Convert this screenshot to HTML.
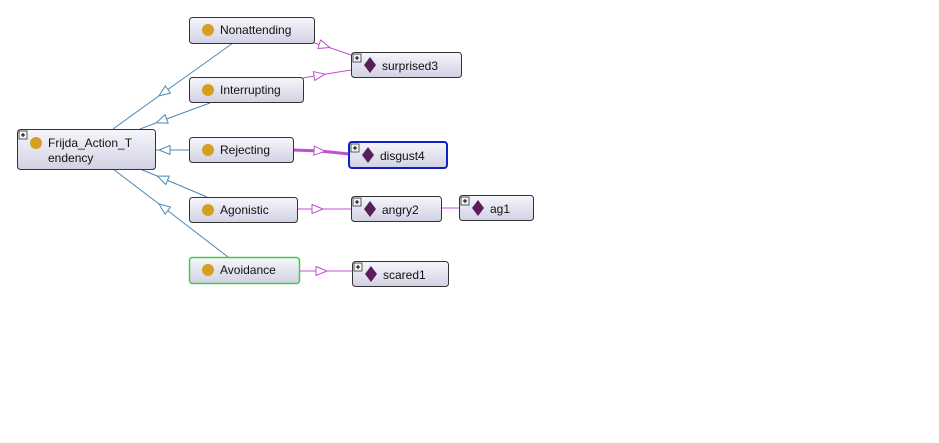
<!DOCTYPE html>
<html><head><meta charset="utf-8"><style>
html,body{margin:0;padding:0;background:#fff;}
svg text{font-family:"Liberation Sans",Arial,sans-serif;font-size:12px;fill:#111;}
</style></head><body>
<svg width="939" height="438" viewBox="0 0 939 438" xmlns="http://www.w3.org/2000/svg">
<defs>
<linearGradient id="g" x1="0" y1="0" x2="0" y2="1">
<stop offset="0" stop-color="#f6f6fb"/><stop offset="1" stop-color="#d2d1e4"/>
</linearGradient>
<marker id="ab" markerWidth="14" markerHeight="12" refX="7" refY="5" orient="auto" markerUnits="userSpaceOnUse">
<path d="M1,0.5 L12,5 L1,9.5 z" fill="#fff" stroke="#4a8ab8" stroke-width="1"/>
</marker>
<marker id="ap" markerWidth="14" markerHeight="12" refX="7" refY="5" orient="auto" markerUnits="userSpaceOnUse">
<path d="M1,0.5 L12,5 L1,9.5 z" fill="#fff" stroke="#c050d0" stroke-width="1"/>
</marker>
<g id="plus"><rect x="0" y="0" width="8" height="8" fill="#f4f4f4" stroke="#333" stroke-width="0.8"/><path d="M2,4 H6 M4,2 V6" stroke="#000" stroke-width="1"/></g>
</defs>

<g fill="none" stroke="#4a8ab8" stroke-width="1">
<polyline points="233,43 163,93 113,129" marker-mid="url(#ab)"/>
<polyline points="210,103 161,121 140,129" marker-mid="url(#ab)"/>
<polyline points="189,150 164,150 155,150" marker-mid="url(#ab)"/>
<polyline points="207,197 162,178 140,169" marker-mid="url(#ab)"/>
<polyline points="228,257 163,207 113,169" marker-mid="url(#ab)"/>
</g>
<g fill="none" stroke="#c050d0" stroke-width="1">
<polyline points="314,43 325,46 351,55" marker-mid="url(#ap)"/>
<polyline points="303,78 320,75 351,70" marker-mid="url(#ap)"/>
<polyline points="297,209 318,209 351,209" marker-mid="url(#ap)"/>
<polyline points="299,271 322,271 352,271" marker-mid="url(#ap)"/>
<line x1="441" y1="208" x2="459" y2="208"/>
<polyline points="293,150 320,151 349,154" stroke-width="3" marker-mid="url(#ap)"/>
</g>

<g stroke="#333" stroke-width="1" fill="url(#g)">
<rect x="17.5" y="129.5" width="138" height="40" rx="3"/>
<rect x="189.5" y="17.5" width="125" height="26" rx="3"/>
<rect x="189.5" y="77.5" width="114" height="25" rx="3"/>
<rect x="189.5" y="137.5" width="104" height="25" rx="3"/>
<rect x="189.5" y="197.5" width="108" height="25" rx="3"/>
<rect x="189.5" y="257.5" width="110" height="26" rx="3" stroke="#44cc44" stroke-width="1.5"/>
<rect x="351.5" y="52.5" width="110" height="25" rx="3"/>
<rect x="349" y="142" width="98" height="26" rx="3" stroke="#1020c8" stroke-width="2"/>
<rect x="351.5" y="196.5" width="90" height="25" rx="3"/>
<rect x="459.5" y="195.5" width="74" height="25" rx="3"/>
<rect x="352.5" y="261.5" width="96" height="25" rx="3"/>
</g>
<g fill="#d4a020">
<circle cx="36" cy="143" r="6"/>
<circle cx="208" cy="30" r="6"/>
<circle cx="208" cy="90" r="6"/>
<circle cx="208" cy="150" r="6"/>
<circle cx="208" cy="210" r="6"/>
<circle cx="208" cy="270" r="6"/>
</g>
<g fill="#5a1f5a">
<path d="M370,57 L376,65 L370,73 L364,65 z"/>
<path d="M368,147 L374,155 L368,163 L362,155 z"/>
<path d="M370,201 L376,209 L370,217 L364,209 z"/>
<path d="M478,200 L484,208 L478,216 L472,208 z"/>
<path d="M371,266 L377,274 L371,282 L365,274 z"/>
</g>
<use href="#plus" x="19" y="131"/>
<use href="#plus" x="353" y="54"/>
<use href="#plus" x="351" y="144"/>
<use href="#plus" x="353" y="198"/>
<use href="#plus" x="461" y="197"/>
<use href="#plus" x="354" y="263"/>

<text x="48" y="147">Frijda_Action_T</text>
<text x="48" y="162">endency</text>
<text x="220" y="34">Nonattending</text>
<text x="220" y="94">Interrupting</text>
<text x="220" y="154">Rejecting</text>
<text x="220" y="214">Agonistic</text>
<text x="220" y="274">Avoidance</text>
<text x="382" y="70">surprised3</text>
<text x="380" y="160">disgust4</text>
<text x="382" y="214">angry2</text>
<text x="490" y="213">ag1</text>
<text x="383" y="279">scared1</text>
</svg>
</body></html>
